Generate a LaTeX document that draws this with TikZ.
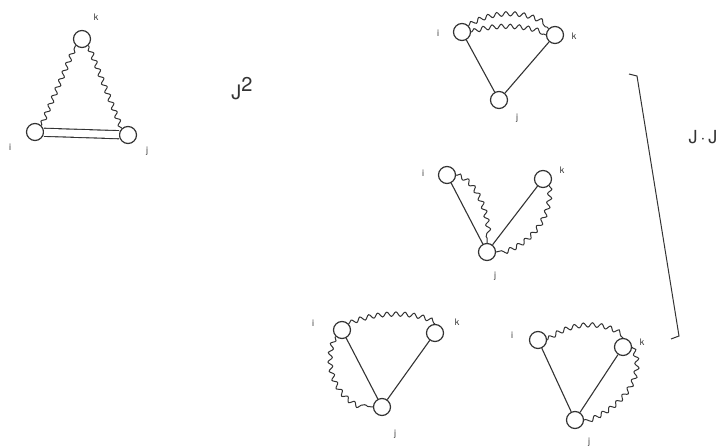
\documentclass[tikz,border=0pt]{standalone}
\usepackage{fontspec}
\setmainfont{TeX Gyre Heros}
\usetikzlibrary{decorations.pathmorphing}
\begin{document}
\begin{tikzpicture}[x=1pt,y=-1pt,
  vtx/.style={circle,draw=ink,line width=1.2pt,minimum size=17pt,inner sep=0pt},
  lab/.style={text=ink,font=\fontsize{9}{9}\selectfont,inner sep=0pt},
  big/.style={text=ink,font=\fontsize{20}{20}\selectfont,inner sep=0pt},
  wavy/.style={draw=ink,line width=1pt,decorate,decoration={snake,segment length=9pt,amplitude=2.2pt,pre length=1pt,post length=1pt}},
  edge/.style={draw=ink,line width=1.1pt},
  dbl/.style={draw=ink,line width=1.1pt,double=white,double distance=7pt}]
\definecolor{ink}{HTML}{333333}
\useasboundingbox (0,0) rectangle (726,446);
% diagram 1
\node[vtx] (d1k) at (82,39) {};
\node[vtx] (d1i) at (35,132) {};
\node[vtx] (d1j) at (128,135) {};
\node[lab] at (96,17) {k};
\node[lab] at (10,147) {i};
\node[lab] at (147,151) {j};
\draw[dbl] (d1i) -- (d1j);
\draw[wavy] (d1i.north east) -- (d1k.south west);
\draw[wavy] (d1j.north west) -- (d1k.south east);
\node[big] (j2) at (242,89) {J\raisebox{8pt}{2}};
% diagram 2
\node[vtx] (d2i) at (462,32) {};
\node[vtx] (d2k) at (555,35) {};
\node[vtx] (d2j) at (499,100) {};
\node[lab] at (438,33) {i};
\node[lab] at (574,36) {k};
\node[lab] at (517,118) {j};
\draw[edge] (d2i) -- (d2j);
\draw[edge] (d2k) -- (d2j);
\draw[wavy] (d2i.north east) .. controls (490,11) and (530,11) .. (d2k.north west);
\draw[wavy] (d2i.east) .. controls (490,25) and (525,25) .. (d2k.west);
% diagram 3
\node[vtx] (d3i) at (447,175) {};
\node[vtx] (d3k) at (543,179) {};
\node[vtx] (d3j) at (487,252) {};
\node[lab] at (423,173) {i};
\node[lab] at (562,170) {k};
\node[lab] at (495,276) {j};
\draw[edge] (d3i) -- (d3j);
\draw[edge] (d3k) -- (d3j);
\draw[wavy] (d3i.east) .. controls (475,180) and (488,215) .. (d3j.north);
\draw[wavy] (d3k.south east) .. controls (552,215) and (530,245) .. (d3j.east);
% diagram 4
\node[vtx] (d4i) at (342,330) {};
\node[vtx] (d4k) at (435,333) {};
\node[vtx] (d4j) at (382,407) {};
\node[lab] at (313,323) {i};
\node[lab] at (457,322) {k};
\node[lab] at (395,434) {j};
\draw[edge] (d4i) -- (d4j);
\draw[edge] (d4k) -- (d4j);
\draw[wavy] (d4i.north east) .. controls (375,312) and (415,312) .. (d4k.north);
\draw[wavy] (d4i.south west) .. controls (322,365) and (340,405) .. (d4j.west);
% diagram 5
\node[vtx] (d5i) at (538,340) {};
\node[vtx] (d5k) at (623,347) {};
\node[vtx] (d5j) at (575,420) {};
\node[lab] at (512,335) {i};
\node[lab] at (642,342) {k};
\node[lab] at (589,442) {j};
\draw[edge] (d5i) -- (d5j);
\draw[edge] (d5k) -- (d5j);
\draw[wavy] (d5i.east) .. controls (570,322) and (605,322) .. (d5k.north);
\draw[wavy] (d5k.east) .. controls (645,370) and (625,405) .. (d5j.east);
% bracket
\coordinate (b1) at (629,74);
\coordinate (b2) at (637,76);
\coordinate (b3) at (679,336);
\coordinate (b4) at (671,339);
\draw[ink,line width=1pt] (b1) -- (b2) -- (b3) -- (b4);
\node[big,font=\fontsize{18}{18}\selectfont] (jj) at (703,137) {J\,$\cdot$\,J};
\end{tikzpicture}
\end{document}
